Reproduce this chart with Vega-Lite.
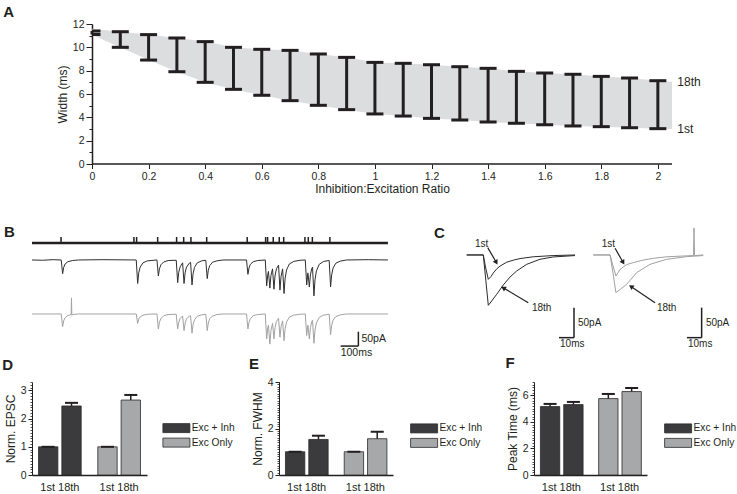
{
"$schema": "https://vega.github.io/schema/vega-lite/v6.json",
"padding": {"left": 2, "top": 5, "right": 0, "bottom": 0},
"background": "white",
"config": {
 "font": "Liberation Sans",
 "view": {"stroke": null},
 "axis": {"labelFont": "Liberation Sans", "titleFont": "Liberation Sans", "labelColor": "#231f20", "titleColor": "#231f20", "domainColor": "#231f20", "tickColor": "#231f20", "titleFontWeight": "normal", "grid": false, "labelFontSize": 10.5, "titleFontSize": 12},
 "legend": {"labelFont": "Liberation Sans"},
 "title": {"font": "Liberation Sans", "fontWeight": "bold", "fontSize": 15, "color": "#231f20", "anchor": "start", "frame": "group", "baseline": "alphabetic"}
},
"datasets": {
 "a_width": [
  {"ratio": 0, "lo": 11.1, "hi": 11.4}, {"ratio": 0.1, "lo": 10.0, "hi": 11.34}, {"ratio": 0.2, "lo": 8.91, "hi": 11.09},
  {"ratio": 0.3, "lo": 7.91, "hi": 10.8}, {"ratio": 0.4, "lo": 7.0, "hi": 10.49}, {"ratio": 0.5, "lo": 6.4, "hi": 10.0},
  {"ratio": 0.6, "lo": 5.89, "hi": 9.83}, {"ratio": 0.7, "lo": 5.43, "hi": 9.74}, {"ratio": 0.8, "lo": 5.03, "hi": 9.43},
  {"ratio": 0.9, "lo": 4.66, "hi": 9.14}, {"ratio": 1.0, "lo": 4.29, "hi": 8.71}, {"ratio": 1.1, "lo": 4.11, "hi": 8.63},
  {"ratio": 1.2, "lo": 3.91, "hi": 8.51}, {"ratio": 1.3, "lo": 3.77, "hi": 8.34}, {"ratio": 1.4, "lo": 3.6, "hi": 8.2},
  {"ratio": 1.5, "lo": 3.49, "hi": 7.94}, {"ratio": 1.6, "lo": 3.37, "hi": 7.8}, {"ratio": 1.7, "lo": 3.26, "hi": 7.69},
  {"ratio": 1.8, "lo": 3.2, "hi": 7.51}, {"ratio": 1.9, "lo": 3.11, "hi": 7.37}, {"ratio": 2.0, "lo": 3.03, "hi": 7.14}
 ],
 "a_band": [
  {"ratio": 0, "lo": 11.05, "hi": 11.6}, {"ratio": 0.1, "lo": 10.0, "hi": 11.34}, {"ratio": 0.2, "lo": 8.91, "hi": 11.09},
  {"ratio": 0.3, "lo": 7.91, "hi": 10.8}, {"ratio": 0.4, "lo": 7.0, "hi": 10.49}, {"ratio": 0.5, "lo": 6.4, "hi": 10.0},
  {"ratio": 0.6, "lo": 5.89, "hi": 9.83}, {"ratio": 0.7, "lo": 5.43, "hi": 9.74}, {"ratio": 0.8, "lo": 5.03, "hi": 9.43},
  {"ratio": 0.9, "lo": 4.66, "hi": 9.14}, {"ratio": 1.0, "lo": 4.29, "hi": 8.71}, {"ratio": 1.1, "lo": 4.11, "hi": 8.63},
  {"ratio": 1.2, "lo": 3.91, "hi": 8.51}, {"ratio": 1.3, "lo": 3.77, "hi": 8.34}, {"ratio": 1.4, "lo": 3.6, "hi": 8.2},
  {"ratio": 1.5, "lo": 3.49, "hi": 7.94}, {"ratio": 1.6, "lo": 3.37, "hi": 7.8}, {"ratio": 1.7, "lo": 3.26, "hi": 7.69},
  {"ratio": 1.8, "lo": 3.2, "hi": 7.51}, {"ratio": 1.9, "lo": 3.11, "hi": 7.37}, {"ratio": 2.0, "lo": 3.03, "hi": 7.14},
  {"ratio": 2.05, "lo": 3.0, "hi": 7.05}
 ],
 "a_axis": [{"from": 0, "to": 2.05, "base": 0}],
 "a_labels": [{"ratio": 2.05, "w": 7.05, "label": "18th"}, {"ratio": 2.05, "w": 3.0, "label": "1st"}],
 "b_sweep": [{"start": 0, "end": 2011, "level": 59}],
 "b_stim": [{"t": 164}, {"t": 576}, {"t": 591}, {"t": 710}, {"t": 817}, {"t": 857}, {"t": 898}, {"t": 987}, {"t": 1216}, {"t": 1320}, {"t": 1331}, {"t": 1363}, {"t": 1397}, {"t": 1422}, {"t": 1542}, {"t": 1561}, {"t": 1584}, {"t": 1683}],
 "b_dark": [
  {"t":0,"i":0},{"t":60,"i":-1},{"t":120,"i":1},{"t":165,"i":0},{"t":173,"i":-48},{"t":179,"i":-26},{"t":187,"i":-14},{"t":203,"i":-6},{"t":228,"i":-2},{"t":263,"i":0},{"t":400,"i":1},{"t":589,"i":0},
  {"t":597,"i":-82},{"t":603,"i":-45},{"t":611,"i":-25},{"t":627,"i":-10},{"t":652,"i":-3},{"t":706,"i":0},
  {"t":714,"i":-56},{"t":720,"i":-31},{"t":728,"i":-17},{"t":744,"i":-7},{"t":769,"i":-2},{"t":815,"i":-1},
  {"t":823,"i":-79},{"t":829,"i":-43},{"t":837,"i":-24},{"t":851,"i":-10},
  {"t":859,"i":-82},{"t":865,"i":-45},{"t":873,"i":-25},{"t":889,"i":-11},{"t":896,"i":-8},
  {"t":904,"i":-87},{"t":910,"i":-48},{"t":918,"i":-26},{"t":934,"i":-10},{"t":959,"i":-3},{"t":982,"i":-1},
  {"t":990,"i":-65},{"t":996,"i":-36},{"t":1004,"i":-20},{"t":1020,"i":-8},{"t":1045,"i":-3},{"t":1080,"i":0},{"t":1212,"i":0},
  {"t":1220,"i":-50},{"t":1226,"i":-28},{"t":1234,"i":-15},{"t":1250,"i":-6},{"t":1275,"i":-2},{"t":1318,"i":0},
  {"t":1326,"i":-90},{"t":1332,"i":-50},{"t":1336,"i":-40},
  {"t":1344,"i":-98},{"t":1350,"i":-54},{"t":1359,"i":-31},
  {"t":1367,"i":-102},{"t":1373,"i":-56},{"t":1381,"i":-31},{"t":1393,"i":-18},
  {"t":1401,"i":-105},{"t":1407,"i":-58},{"t":1416,"i":-31},
  {"t":1424,"i":-117},{"t":1430,"i":-64},{"t":1438,"i":-35},{"t":1454,"i":-14},{"t":1479,"i":-5},{"t":1514,"i":-1},{"t":1544,"i":0},
  {"t":1552,"i":-87},{"t":1558,"i":-48},{"t":1559,"i":-45},
  {"t":1567,"i":-94},{"t":1573,"i":-52},{"t":1581,"i":-29},{"t":1585,"i":-25},
  {"t":1593,"i":-125},{"t":1599,"i":-69},{"t":1607,"i":-38},{"t":1623,"i":-15},{"t":1648,"i":-5},{"t":1679,"i":-2},
  {"t":1687,"i":-94},{"t":1693,"i":-52},{"t":1701,"i":-28},{"t":1717,"i":-11},{"t":1742,"i":-4},{"t":1777,"i":0},{"t":1900,"i":1},{"t":2011,"i":0}
 ],
 "b_grey": [
  {"t":0,"i":0},{"t":165,"i":0},{"t":173,"i":-44},{"t":179,"i":-24},{"t":187,"i":-13},{"t":203,"i":-5},{"t":218,"i":-3},{"t":221,"i":-2},{"t":223,"i":56},{"t":225,"i":-5},{"t":230,"i":-2},{"t":263,"i":0},{"t":589,"i":0},
  {"t":597,"i":-33},{"t":603,"i":-18},{"t":611,"i":-10},{"t":627,"i":-4},{"t":652,"i":-1},{"t":706,"i":0},
  {"t":714,"i":-52},{"t":720,"i":-29},{"t":728,"i":-16},{"t":744,"i":-6},{"t":769,"i":-2},{"t":815,"i":-1},
  {"t":823,"i":-52},{"t":829,"i":-29},{"t":837,"i":-16},{"t":851,"i":-7},
  {"t":859,"i":-58},{"t":865,"i":-32},{"t":873,"i":-17},{"t":889,"i":-7},{"t":896,"i":-6},
  {"t":904,"i":-67},{"t":910,"i":-37},{"t":918,"i":-20},{"t":934,"i":-8},{"t":959,"i":-3},{"t":982,"i":-1},
  {"t":990,"i":-58},{"t":996,"i":-32},{"t":1004,"i":-17},{"t":1020,"i":-7},{"t":1045,"i":-2},{"t":1080,"i":0},{"t":1212,"i":0},
  {"t":1220,"i":-52},{"t":1226,"i":-29},{"t":1234,"i":-16},{"t":1250,"i":-6},{"t":1275,"i":-2},{"t":1318,"i":0},
  {"t":1326,"i":-87},{"t":1332,"i":-48},{"t":1336,"i":-39},
  {"t":1344,"i":-105},{"t":1350,"i":-58},{"t":1359,"i":-33},
  {"t":1367,"i":-87},{"t":1373,"i":-48},{"t":1381,"i":-26},{"t":1393,"i":-15},
  {"t":1401,"i":-81},{"t":1407,"i":-45},{"t":1416,"i":-24},
  {"t":1424,"i":-93},{"t":1430,"i":-51},{"t":1438,"i":-28},{"t":1454,"i":-11},{"t":1479,"i":-4},{"t":1514,"i":-1},{"t":1544,"i":0},
  {"t":1552,"i":-75},{"t":1558,"i":-41},{"t":1559,"i":-39},
  {"t":1567,"i":-87},{"t":1573,"i":-48},{"t":1581,"i":-26},{"t":1585,"i":-22},
  {"t":1593,"i":-102},{"t":1599,"i":-56},{"t":1607,"i":-31},{"t":1623,"i":-12},{"t":1648,"i":-4},{"t":1679,"i":-1},
  {"t":1687,"i":-72},{"t":1693,"i":-40},{"t":1701,"i":-22},{"t":1717,"i":-9},{"t":1742,"i":-3},{"t":1777,"i":0},{"t":2011,"i":0}
 ],
 "b_scale": [{"t0": 1744, "t1": 1844, "i0": -300, "i1": -250, "imid": -275}],
 "c_traces": [
  {"side":"L","pulse":"1st","t":0,"i":0},{"side":"L","pulse":"1st","t":11.3,"i":0},{"side":"L","pulse":"1st","t":12.8,"i":-20},{"side":"L","pulse":"1st","t":14.7,"i":-40.6},{"side":"L","pulse":"1st","t":16.5,"i":-36},{"side":"L","pulse":"1st","t":18.1,"i":-30},{"side":"L","pulse":"1st","t":20.5,"i":-23},{"side":"L","pulse":"1st","t":22.7,"i":-18.5},{"side":"L","pulse":"1st","t":27.2,"i":-12},{"side":"L","pulse":"1st","t":32,"i":-8.5},{"side":"L","pulse":"1st","t":36.3,"i":-6},{"side":"L","pulse":"1st","t":45.3,"i":-3},{"side":"L","pulse":"1st","t":58.9,"i":-1},{"side":"L","pulse":"1st","t":73.7,"i":0},
  {"side":"L","pulse":"18th","t":0,"i":0},{"side":"L","pulse":"18th","t":11.3,"i":0},{"side":"L","pulse":"18th","t":13,"i":-42},{"side":"L","pulse":"18th","t":14.7,"i":-83.9},{"side":"L","pulse":"18th","t":17,"i":-76.7},{"side":"L","pulse":"18th","t":20.4,"i":-65.6},{"side":"L","pulse":"18th","t":24.9,"i":-50},{"side":"L","pulse":"18th","t":29.5,"i":-36.7},{"side":"L","pulse":"18th","t":34,"i":-26.7},{"side":"L","pulse":"18th","t":40.8,"i":-15.6},{"side":"L","pulse":"18th","t":49.9,"i":-7.2},{"side":"L","pulse":"18th","t":58.9,"i":-3.3},{"side":"L","pulse":"18th","t":73.7,"i":-1},
  {"side":"R","pulse":"1st","t":0,"i":0},{"side":"R","pulse":"1st","t":11.4,"i":0},{"side":"R","pulse":"1st","t":13.4,"i":-18},{"side":"R","pulse":"1st","t":15.4,"i":-35},{"side":"R","pulse":"1st","t":18.2,"i":-24},{"side":"R","pulse":"1st","t":22.7,"i":-16},{"side":"R","pulse":"1st","t":27.2,"i":-12.8},{"side":"R","pulse":"1st","t":33,"i":-9},{"side":"R","pulse":"1st","t":40.8,"i":-5.6},{"side":"R","pulse":"1st","t":50,"i":-3},{"side":"R","pulse":"1st","t":59,"i":-2},{"side":"R","pulse":"1st","t":68.2,"i":-1},{"side":"R","pulse":"1st","t":68.5,"i":45},{"side":"R","pulse":"1st","t":68.9,"i":-1},{"side":"R","pulse":"1st","t":74.8,"i":0},
  {"side":"R","pulse":"18th","t":0,"i":0},{"side":"R","pulse":"18th","t":11.4,"i":0},{"side":"R","pulse":"18th","t":13.4,"i":-30},{"side":"R","pulse":"18th","t":15.4,"i":-62.8},{"side":"R","pulse":"18th","t":18.5,"i":-57},{"side":"R","pulse":"18th","t":22.7,"i":-48.9},{"side":"R","pulse":"18th","t":29.5,"i":-29.4},{"side":"R","pulse":"18th","t":38.6,"i":-15.6},{"side":"R","pulse":"18th","t":49.9,"i":-7.2},{"side":"R","pulse":"18th","t":63.5,"i":-2.8},{"side":"R","pulse":"18th","t":74.8,"i":-1}
 ],
 "c_notes": [
  {"side":"L","label":"1st","tx":5.6,"ty":18.3,"ax":14.3,"ay":12.2,"bx":19.9,"by":-11.2},
  {"side":"L","label":"18th","tx":44.4,"ty":-87.8,"ax":41.9,"ay":-79.5,"bx":25.4,"by":-55.5},
  {"side":"R","label":"1st","tx":5.7,"ty":18.3,"ax":14.8,"ay":11.2,"bx":20,"by":-11.2},
  {"side":"R","label":"18th","tx":43.3,"ty":-87.8,"ax":42,"ay":-79.5,"bx":26.1,"by":-53.3}
 ],
 "c_scale": [
  {"side":"L","t0":62.8,"t1":73.0,"i0":-137.8,"i1":-87.8,"imid":-113},
  {"side":"R","t0":63.7,"t1":73.7,"i0":-137.8,"i1":-87.8,"imid":-113}
 ],
 "c_letter": [{"panel": "C", "t": -22.2, "i": 28.8}],
 "d_epsc": [
  {"cond":"Exc + Inh","pulse":"1st","mean":1.0,"upper":1.0},
  {"cond":"Exc + Inh","pulse":"18th","mean":2.45,"upper":2.56},
  {"cond":"Exc Only","pulse":"1st","mean":1.0,"upper":1.0},
  {"cond":"Exc Only","pulse":"18th","mean":2.66,"upper":2.84}
 ],
 "e_fwhm": [
  {"cond":"Exc + Inh","pulse":"1st","mean":1.0,"upper":1.0},
  {"cond":"Exc + Inh","pulse":"18th","mean":1.53,"upper":1.69},
  {"cond":"Exc Only","pulse":"1st","mean":1.0,"upper":1.0},
  {"cond":"Exc Only","pulse":"18th","mean":1.56,"upper":1.86}
 ],
 "f_peak": [
  {"cond":"Exc + Inh","pulse":"1st","mean":5.15,"upper":5.35},
  {"cond":"Exc + Inh","pulse":"18th","mean":5.3,"upper":5.5},
  {"cond":"Exc Only","pulse":"1st","mean":5.75,"upper":6.1},
  {"cond":"Exc Only","pulse":"18th","mean":6.28,"upper":6.55}
 ]
},
"bounds": "flush",
"spacing": 21,
"resolve": {"scale": {"color": "independent"}, "legend": {"color": "independent"}},
"vconcat": [
 {"width": 640, "height": 140,
  "title": {"text": "A", "dx": -28.7, "offset": -1.3},
  "layer": [
   {"data": {"name": "a_band"}, "mark": {"type": "area", "color": "#dcddde"},
    "encoding": {
     "x": {"field": "ratio", "type": "quantitative", "scale": {"domain": [-0.2121, 2.05], "nice": false, "zero": false},
           "axis": {"values": [0,0.2,0.4,0.6,0.8,1,1.2,1.4,1.6,1.8,2], "format": "~g", "title": "Inhibition:Excitation Ratio", "titleX": 350, "domain": false, "tickSize": 4.5, "labelPadding": 3, "titlePadding": 1}},
     "y": {"field": "hi", "type": "quantitative", "scale": {"domain": [0, 12], "nice": false},
           "axis": {"values": [0,2,4,6,8,10,12], "title": "Width (ms)", "offset": -60, "tickSize": 6, "labelPadding": 2, "titlePadding": 3, "domainWidth": 1.5}},
     "y2": {"field": "lo"}}},
   {"data": {"name": "a_axis"}, "mark": {"type": "rule", "strokeWidth": 1.5, "color": "#231f20"},
    "encoding": {"x": {"field": "from", "type": "quantitative"}, "x2": {"field": "to"}, "y": {"field": "base", "type": "quantitative", "axis": null}}},
   {"data": {"name": "a_width"}, "mark": {"type": "rule", "strokeWidth": 3, "color": "#231f20"},
    "encoding": {"x": {"field": "ratio", "type": "quantitative"}, "y": {"field": "lo", "type": "quantitative", "axis": null}, "y2": {"field": "hi"}}},
   {"data": {"name": "a_width"}, "transform": [{"filter": "datum.ratio > 0"}], "mark": {"type": "tick", "orient": "horizontal", "size": 17, "thickness": 3, "color": "#231f20", "opacity": 1},
    "encoding": {"x": {"field": "ratio", "type": "quantitative"}, "y": {"field": "hi", "type": "quantitative", "axis": null}}},
   {"data": {"name": "a_width"}, "transform": [{"filter": "datum.ratio > 0"}], "mark": {"type": "tick", "orient": "horizontal", "size": 17, "thickness": 3, "color": "#231f20", "opacity": 1},
    "encoding": {"x": {"field": "ratio", "type": "quantitative"}, "y": {"field": "lo", "type": "quantitative", "axis": null}}},
   {"data": {"name": "a_width"}, "transform": [{"filter": "datum.ratio == 0"}], "mark": {"type": "tick", "orient": "horizontal", "size": 8.5, "xOffset": 4.25, "thickness": 3, "color": "#231f20", "opacity": 1},
    "encoding": {"x": {"field": "ratio", "type": "quantitative"}, "y": {"field": "hi", "type": "quantitative", "axis": null}}},
   {"data": {"name": "a_width"}, "transform": [{"filter": "datum.ratio == 0"}], "mark": {"type": "tick", "orient": "horizontal", "size": 8.5, "xOffset": 4.25, "thickness": 3, "color": "#231f20", "opacity": 1},
    "encoding": {"x": {"field": "ratio", "type": "quantitative"}, "y": {"field": "lo", "type": "quantitative", "axis": null}}},
   {"data": {"name": "a_labels"}, "mark": {"type": "text", "align": "left", "baseline": "middle", "dx": 5.3, "fontSize": 12, "color": "#231f20"},
    "encoding": {"x": {"field": "ratio", "type": "quantitative"}, "y": {"field": "w", "type": "quantitative", "axis": null}, "text": {"field": "label"}}},
   {"data": {"name": "a_width"}, "mark": {"type": "point", "opacity": 0},
    "encoding": {"y": {"field": "hi", "type": "quantitative", "axis": {"orient": "left", "offset": -60, "values": [1,3,5,7,9,11], "labels": false, "domain": false, "tickSize": 3, "title": null}}}}
  ],
  "resolve": {"axis": {"y": "independent"}}
 },
 {"width": 671.3, "height": 176,
  "title": {"text": "B", "dx": -28, "offset": -55},
  "layer": [
   {"layer": [
     {"data": {"name": "b_sweep"}, "mark": {"type": "rule", "strokeWidth": 2.5, "color": "#231f20"},
      "encoding": {"x": {"field": "start", "type": "quantitative", "scale": {"domain": [0, 3792.8], "nice": false, "zero": false}, "axis": null}, "x2": {"field": "end"},
                   "y": {"field": "level", "type": "quantitative", "scale": {"domain": [-352, 261.2], "nice": false, "zero": false}, "axis": null}}},
     {"data": {"name": "b_stim"}, "mark": {"type": "rule", "strokeWidth": 1.5, "color": "#231f20"},
      "encoding": {"x": {"field": "t", "type": "quantitative"}, "y": {"datum": 59, "type": "quantitative"}, "y2": {"datum": 80}}},
     {"data": {"name": "b_dark"}, "mark": {"type": "line", "strokeWidth": 1, "color": "#2f2f2f"},
      "encoding": {"x": {"field": "t", "type": "quantitative"}, "y": {"field": "i", "type": "quantitative"}}},
     {"data": {"name": "b_grey"}, "mark": {"type": "line", "strokeWidth": 1, "color": "#a2a2a2", "yOffset": 54},
      "encoding": {"x": {"field": "t", "type": "quantitative"}, "y": {"field": "i", "type": "quantitative"}}},
     {"data": {"name": "b_scale"}, "mark": {"type": "rule", "strokeWidth": 1.5, "color": "#231f20"},
      "encoding": {"x": {"field": "t0", "type": "quantitative"}, "x2": {"field": "t1"}, "y": {"field": "i0", "type": "quantitative"}}},
     {"data": {"name": "b_scale"}, "mark": {"type": "rule", "strokeWidth": 1.5, "color": "#231f20"},
      "encoding": {"x": {"field": "t1", "type": "quantitative"}, "y": {"field": "i0", "type": "quantitative"}, "y2": {"field": "i1"}}},
     {"data": {"name": "b_scale"}, "mark": {"type": "text", "text": "50pA", "align": "left", "baseline": "middle", "dx": 3, "fontSize": 10.5, "color": "#231f20"},
      "encoding": {"x": {"field": "t1", "type": "quantitative"}, "y": {"field": "imid", "type": "quantitative"}}},
     {"data": {"name": "b_scale"}, "mark": {"type": "text", "text": "100ms", "align": "left", "baseline": "top", "dy": 2, "fontSize": 10.5, "color": "#231f20"},
      "encoding": {"x": {"field": "t0", "type": "quantitative"}, "y": {"field": "i0", "type": "quantitative"}}}
   ]},
   {"layer": [
     {"data": {"name": "c_traces"}, "transform": [{"filter": "datum.side == 'L'"}], "mark": {"type": "line", "strokeWidth": 1, "color": "#2b2b2b"},
      "encoding": {"x": {"field": "t", "type": "quantitative", "scale": {"domain": [-295.71, 160.96], "nice": false, "zero": false}, "axis": null},
                   "y": {"field": "i", "type": "quantitative", "scale": {"domain": [-176.7, 116.6], "nice": false, "zero": false}, "axis": null},
                   "detail": {"field": "pulse"}}},
     {"data": {"name": "c_letter"}, "mark": {"type": "text", "align": "left", "baseline": "alphabetic", "fontSize": 15, "fontWeight": "bold", "color": "#231f20"},
      "encoding": {"x": {"field": "t", "type": "quantitative"}, "y": {"field": "i", "type": "quantitative"}, "text": {"field": "panel"}}},
     {"data": {"name": "c_notes"}, "transform": [{"filter": "datum.side == 'L'"}], "mark": {"type": "rule", "strokeWidth": 1.2, "color": "#231f20"},
      "encoding": {"x": {"field": "ax", "type": "quantitative"}, "y": {"field": "ay", "type": "quantitative"}, "x2": {"field": "bx"}, "y2": {"field": "by"}}},
     {"data": {"name": "c_notes"}, "transform": [{"filter": "datum.side == 'L' && datum.label == '1st'"}], "mark": {"type": "point", "shape": "triangle", "angle": 150, "size": 30, "filled": true, "opacity": 1, "color": "#231f20"},
      "encoding": {"x": {"field": "bx", "type": "quantitative"}, "y": {"field": "by", "type": "quantitative"}}},
     {"data": {"name": "c_notes"}, "transform": [{"filter": "datum.side == 'L' && datum.label == '18th'"}], "mark": {"type": "point", "shape": "triangle", "angle": 301, "size": 30, "filled": true, "opacity": 1, "color": "#231f20"},
      "encoding": {"x": {"field": "bx", "type": "quantitative"}, "y": {"field": "by", "type": "quantitative"}}},
     {"data": {"name": "c_notes"}, "transform": [{"filter": "datum.side == 'L'"}], "mark": {"type": "text", "align": "left", "baseline": "middle", "fontSize": 10, "color": "#231f20"},
      "encoding": {"x": {"field": "tx", "type": "quantitative"}, "y": {"field": "ty", "type": "quantitative"}, "text": {"field": "label"}}},
     {"data": {"name": "c_scale"}, "transform": [{"filter": "datum.side == 'L'"}], "mark": {"type": "rule", "strokeWidth": 1.5, "color": "#231f20"},
      "encoding": {"x": {"field": "t0", "type": "quantitative"}, "x2": {"field": "t1"}, "y": {"field": "i0", "type": "quantitative"}}},
     {"data": {"name": "c_scale"}, "transform": [{"filter": "datum.side == 'L'"}], "mark": {"type": "rule", "strokeWidth": 1.5, "color": "#231f20"},
      "encoding": {"x": {"field": "t1", "type": "quantitative"}, "y": {"field": "i0", "type": "quantitative"}, "y2": {"field": "i1"}}},
     {"data": {"name": "c_scale"}, "transform": [{"filter": "datum.side == 'L'"}], "mark": {"type": "text", "text": "50pA", "align": "left", "baseline": "middle", "dx": 4, "fontSize": 10, "color": "#231f20"},
      "encoding": {"x": {"field": "t1", "type": "quantitative"}, "y": {"field": "imid", "type": "quantitative"}}},
     {"data": {"name": "c_scale"}, "transform": [{"filter": "datum.side == 'L'"}], "mark": {"type": "text", "text": "10ms", "align": "left", "baseline": "top", "dx": 1, "dy": 1, "fontSize": 10, "color": "#231f20"},
      "encoding": {"x": {"field": "t0", "type": "quantitative"}, "y": {"field": "i0", "type": "quantitative"}}}
   ]},
   {"layer": [
     {"data": {"name": "c_traces"}, "transform": [{"filter": "datum.side == 'R'"}], "mark": {"type": "line", "strokeWidth": 1, "color": "#a0a0a0"},
      "encoding": {"x": {"field": "t", "type": "quantitative", "scale": {"domain": [-381.84, 74.83], "nice": false, "zero": false}, "axis": null},
                   "y": {"field": "i", "type": "quantitative", "scale": {"domain": [-176.7, 116.6], "nice": false, "zero": false}, "axis": null},
                   "detail": {"field": "pulse"}}},
     {"data": {"name": "c_notes"}, "transform": [{"filter": "datum.side == 'R'"}], "mark": {"type": "rule", "strokeWidth": 1.2, "color": "#231f20"},
      "encoding": {"x": {"field": "ax", "type": "quantitative"}, "y": {"field": "ay", "type": "quantitative"}, "x2": {"field": "bx"}, "y2": {"field": "by"}}},
     {"data": {"name": "c_notes"}, "transform": [{"filter": "datum.side == 'R' && datum.label == '1st'"}], "mark": {"type": "point", "shape": "triangle", "angle": 150, "size": 30, "filled": true, "opacity": 1, "color": "#231f20"},
      "encoding": {"x": {"field": "bx", "type": "quantitative"}, "y": {"field": "by", "type": "quantitative"}}},
     {"data": {"name": "c_notes"}, "transform": [{"filter": "datum.side == 'R' && datum.label == '18th'"}], "mark": {"type": "point", "shape": "triangle", "angle": 304, "size": 30, "filled": true, "opacity": 1, "color": "#231f20"},
      "encoding": {"x": {"field": "bx", "type": "quantitative"}, "y": {"field": "by", "type": "quantitative"}}},
     {"data": {"name": "c_notes"}, "transform": [{"filter": "datum.side == 'R'"}], "mark": {"type": "text", "align": "left", "baseline": "middle", "fontSize": 10, "color": "#231f20"},
      "encoding": {"x": {"field": "tx", "type": "quantitative"}, "y": {"field": "ty", "type": "quantitative"}, "text": {"field": "label"}}},
     {"data": {"name": "c_scale"}, "transform": [{"filter": "datum.side == 'R'"}], "mark": {"type": "rule", "strokeWidth": 1.5, "color": "#231f20"},
      "encoding": {"x": {"field": "t0", "type": "quantitative"}, "x2": {"field": "t1"}, "y": {"field": "i0", "type": "quantitative"}}},
     {"data": {"name": "c_scale"}, "transform": [{"filter": "datum.side == 'R'"}], "mark": {"type": "rule", "strokeWidth": 1.5, "color": "#231f20"},
      "encoding": {"x": {"field": "t1", "type": "quantitative"}, "y": {"field": "i0", "type": "quantitative"}, "y2": {"field": "i1"}}},
     {"data": {"name": "c_scale"}, "transform": [{"filter": "datum.side == 'R'"}], "mark": {"type": "text", "text": "50pA", "align": "left", "baseline": "middle", "dx": 4.3, "fontSize": 10, "color": "#231f20"},
      "encoding": {"x": {"field": "t1", "type": "quantitative"}, "y": {"field": "imid", "type": "quantitative"}}},
     {"data": {"name": "c_scale"}, "transform": [{"filter": "datum.side == 'R'"}], "mark": {"type": "text", "text": "10ms", "align": "left", "baseline": "top", "dx": 1, "dy": 1, "fontSize": 10, "color": "#231f20"},
      "encoding": {"x": {"field": "t0", "type": "quantitative"}, "y": {"field": "i0", "type": "quantitative"}}}
   ]}
  ],
  "resolve": {"scale": {"x": "independent", "y": "independent"}}
 },
 {"bounds": "flush", "spacing": 132,
  "resolve": {"scale": {"color": "independent"}, "legend": {"color": "independent"}},
  "hconcat": [
   {"width": 115, "height": 93,
    "title": {"text": "D", "dx": -29.7, "offset": 8.5},
    "data": {"name": "d_epsc"},
    "layer": [
     {"mark": {"type": "bar", "stroke": "#2a2a2a", "strokeWidth": 0.8},
      "encoding": {
       "x": {"field": "cond", "type": "nominal", "sort": ["Exc + Inh", "Exc Only"], "scale": {"paddingInner": 0.28, "paddingOuter": 0.11}, "axis": {"labelExpr": "'1st 18th'", "labelAngle": 0, "ticks": false, "tickSize": 0, "labelPadding": 6, "labelFontSize": 11, "title": null, "domainWidth": 1.5}},
       "xOffset": {"field": "pulse", "type": "nominal", "sort": ["1st", "18th"], "scale": {"paddingInner": 0.17, "paddingOuter": 0}},
       "y": {"field": "mean", "type": "quantitative", "scale": {"domain": [0, 3.3], "nice": false}, "axis": {"values": [0,1,2,3], "title": "Norm. EPSC", "tickSize": 4, "labelPadding": 2, "titlePadding": 3}},
       "color": {"field": "cond", "type": "nominal", "scale": {"domain": ["Exc + Inh", "Exc Only"], "range": ["#3b3b3d", "#a7a8aa"]},
                 "legend": {"orient": "none", "legendX": 139.3, "legendY": 41, "title": null, "symbolType": "M-3,-1H3V1H-3Z", "symbolSize": 81, "symbolStrokeColor": "#2a2a2a", "symbolStrokeWidth": 0.8, "labelFontSize": 10.2, "labelOffset": 10.3, "rowPadding": 1.5, "padding": 0, "labelColor": "#231f20"}}
      }},
     {"mark": {"type": "rule", "strokeWidth": 1.5, "color": "#231f20"},
      "encoding": {"x": {"field": "cond", "type": "nominal", "sort": ["Exc + Inh", "Exc Only"]}, "xOffset": {"field": "pulse", "type": "nominal", "sort": ["1st", "18th"]}, "y": {"field": "mean", "type": "quantitative", "axis": null}, "y2": {"field": "upper"}}},
     {"mark": {"type": "tick", "orient": "horizontal", "size": 13, "thickness": 2, "color": "#231f20", "opacity": 1},
      "encoding": {"x": {"field": "cond", "type": "nominal", "sort": ["Exc + Inh", "Exc Only"]}, "xOffset": {"field": "pulse", "type": "nominal", "sort": ["1st", "18th"]}, "y": {"field": "upper", "type": "quantitative", "axis": null}}},
     {"mark": {"type": "point", "opacity": 0},
      "encoding": {"y": {"field": "mean", "type": "quantitative", "axis": {"orient": "left", "tickCount": 33, "labels": false, "domain": false, "tickSize": 2, "tickWidth": 0.8, "title": null}}}}
    ],
    "resolve": {"axis": {"y": "independent"}}
   },
   {"bounds": "flush", "spacing": 141,
    "resolve": {"scale": {"color": "independent"}, "legend": {"color": "independent"}},
    "hconcat": [
     {"width": 114, "height": 93,
      "title": {"text": "E", "dx": -30, "offset": 5},
      "data": {"name": "e_fwhm"},
      "layer": [
       {"mark": {"type": "bar", "stroke": "#2a2a2a", "strokeWidth": 0.8},
        "encoding": {
         "x": {"field": "cond", "type": "nominal", "sort": ["Exc + Inh", "Exc Only"], "scale": {"paddingInner": 0.28, "paddingOuter": 0.11}, "axis": {"labelExpr": "'1st 18th'", "labelAngle": 0, "ticks": false, "tickSize": 0, "labelPadding": 6, "labelFontSize": 11, "title": null, "domainWidth": 1.5}},
         "xOffset": {"field": "pulse", "type": "nominal", "sort": ["1st", "18th"], "scale": {"paddingInner": 0.17, "paddingOuter": 0}},
         "y": {"field": "mean", "type": "quantitative", "scale": {"domain": [0, 4], "nice": false}, "axis": {"values": [0,2,4], "title": "Norm. FWHM", "tickSize": 4, "labelPadding": 2, "titlePadding": 3}},
         "color": {"field": "cond", "type": "nominal", "scale": {"domain": ["Exc + Inh", "Exc Only"], "range": ["#3b3b3d", "#a7a8aa"]},
                   "legend": {"orient": "none", "legendX": 140, "legendY": 41.3, "title": null, "symbolType": "M-3,-1H3V1H-3Z", "symbolSize": 81, "symbolStrokeColor": "#2a2a2a", "symbolStrokeWidth": 0.8, "labelFontSize": 10.2, "labelOffset": 10.3, "rowPadding": 1.5, "padding": 0, "labelColor": "#231f20"}}
        }},
       {"mark": {"type": "rule", "strokeWidth": 1.5, "color": "#231f20"},
        "encoding": {"x": {"field": "cond", "type": "nominal", "sort": ["Exc + Inh", "Exc Only"]}, "xOffset": {"field": "pulse", "type": "nominal", "sort": ["1st", "18th"]}, "y": {"field": "mean", "type": "quantitative", "axis": null}, "y2": {"field": "upper"}}},
       {"mark": {"type": "tick", "orient": "horizontal", "size": 13, "thickness": 2, "color": "#231f20", "opacity": 1},
        "encoding": {"x": {"field": "cond", "type": "nominal", "sort": ["Exc + Inh", "Exc Only"]}, "xOffset": {"field": "pulse", "type": "nominal", "sort": ["1st", "18th"]}, "y": {"field": "upper", "type": "quantitative", "axis": null}}},
       {"mark": {"type": "point", "opacity": 0},
        "encoding": {"y": {"field": "mean", "type": "quantitative", "axis": {"orient": "left", "tickCount": 40, "labels": false, "domain": false, "tickSize": 2, "tickWidth": 0.8, "title": null}}}}
      ],
      "resolve": {"axis": {"y": "independent"}}
     },
     {"width": 113, "height": 93,
      "title": {"text": "F", "dx": -28.6, "offset": 10.7},
      "data": {"name": "f_peak"},
      "layer": [
       {"mark": {"type": "bar", "stroke": "#2a2a2a", "strokeWidth": 0.8},
        "encoding": {
         "x": {"field": "cond", "type": "nominal", "sort": ["Exc + Inh", "Exc Only"], "scale": {"paddingInner": 0.28, "paddingOuter": 0.11}, "axis": {"labelExpr": "'1st 18th'", "labelAngle": 0, "ticks": false, "tickSize": 0, "labelPadding": 6, "labelFontSize": 11, "title": null, "domainWidth": 1.5}},
         "xOffset": {"field": "pulse", "type": "nominal", "sort": ["1st", "18th"], "scale": {"paddingInner": 0.17, "paddingOuter": 0}},
         "y": {"field": "mean", "type": "quantitative", "scale": {"domain": [0, 7], "nice": false}, "axis": {"values": [0,2,4,6], "title": "Peak Time (ms)", "tickSize": 4, "labelPadding": 2, "titlePadding": 3}},
         "color": {"field": "cond", "type": "nominal", "scale": {"domain": ["Exc + Inh", "Exc Only"], "range": ["#3b3b3d", "#a7a8aa"]},
                   "legend": {"orient": "none", "legendX": 139, "legendY": 41.3, "title": null, "symbolType": "M-3,-1H3V1H-3Z", "symbolSize": 81, "symbolStrokeColor": "#2a2a2a", "symbolStrokeWidth": 0.8, "labelFontSize": 10.2, "labelOffset": 10.3, "rowPadding": 1.5, "padding": 0, "labelColor": "#231f20"}}
        }},
       {"mark": {"type": "rule", "strokeWidth": 1.5, "color": "#231f20"},
        "encoding": {"x": {"field": "cond", "type": "nominal", "sort": ["Exc + Inh", "Exc Only"]}, "xOffset": {"field": "pulse", "type": "nominal", "sort": ["1st", "18th"]}, "y": {"field": "mean", "type": "quantitative", "axis": null}, "y2": {"field": "upper"}}},
       {"mark": {"type": "tick", "orient": "horizontal", "size": 13, "thickness": 2, "color": "#231f20", "opacity": 1},
        "encoding": {"x": {"field": "cond", "type": "nominal", "sort": ["Exc + Inh", "Exc Only"]}, "xOffset": {"field": "pulse", "type": "nominal", "sort": ["1st", "18th"]}, "y": {"field": "upper", "type": "quantitative", "axis": null}}},
       {"mark": {"type": "point", "opacity": 0},
        "encoding": {"y": {"field": "mean", "type": "quantitative", "axis": {"orient": "left", "tickCount": 35, "labels": false, "domain": false, "tickSize": 2, "tickWidth": 0.8, "title": null}}}}
      ],
      "resolve": {"axis": {"y": "independent"}}
     }
    ]
   }
  ]
 }
]
}
